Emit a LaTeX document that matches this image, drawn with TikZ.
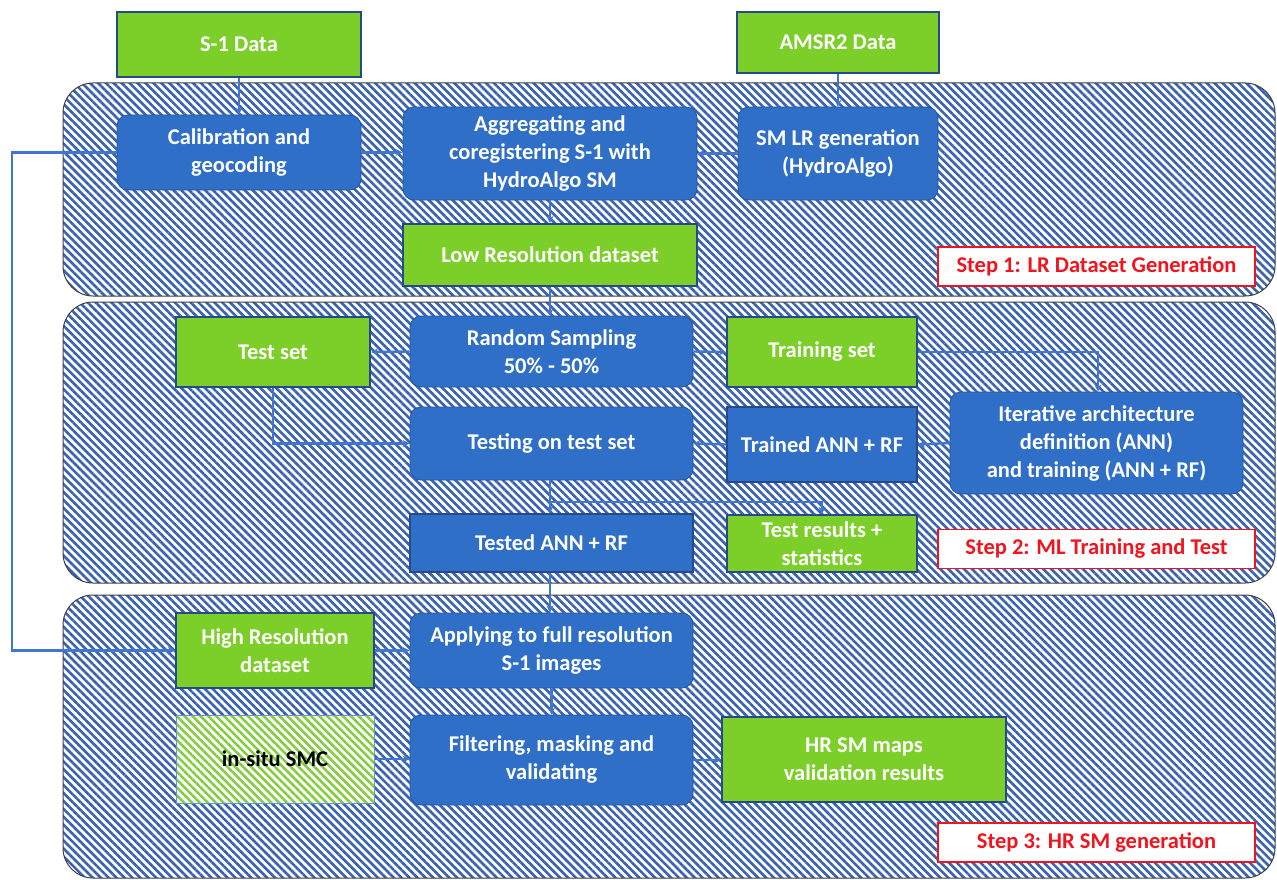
\documentclass[tikz,border=0pt]{standalone}
\usepackage{fontspec}
\setmainfont{Carlito}
\usetikzlibrary{patterns.meta,arrows.meta}
\definecolor{boxblue}{RGB}{48,111,200}
\definecolor{boxedge}{RGB}{40,85,160}
\definecolor{boxgreen}{RGB}{124,207,40}
\definecolor{greenedge}{RGB}{38,72,140}
\definecolor{hatchblue}{RGB}{58,98,178}
\definecolor{linkblue}{RGB}{64,118,210}
\definecolor{hatchgreen}{RGB}{130,205,60}
\definecolor{stepred}{RGB}{240,20,30}
\tikzset{
  panel/.style={rounded corners=30pt, draw=black!75, line width=1pt,
    pattern={Lines[angle=-45,distance=5.6pt,line width=2.6pt]}, pattern color=hatchblue},
  boxtext/.style={text=white, font=\fontsize{22.5}{28}\selectfont\bfseries, align=center, inner sep=0pt},
  bluebox/.style={boxtext, rounded corners=11pt, fill=boxblue, draw=boxedge, line width=0.8pt},
  greenbox/.style={boxtext, fill=boxgreen, draw=greenedge, line width=2.2pt},
  bluerect/.style={boxtext, fill=boxblue, draw=greenedge, line width=2pt},
  insitubox/.style={boxtext, draw=linkblue!80, line width=0.8pt,
    pattern={Lines[angle=-45,distance=5.6pt,line width=2.5pt]}, pattern color=hatchgreen,
    text=black},
  steplabel/.style={fill=white, draw=stepred, line width=1.2pt, text=stepred,
    font=\fontsize{22.5}{26}\selectfont\bfseries, inner sep=0pt,
    minimum width=317pt, minimum height=39pt},
  link/.style={draw=linkblue, line width=2.4pt},
  arr/.style={link, -{Stealth[length=7pt,width=7pt]}},
  sz/.style n args={2}{minimum width=#1pt, minimum height=#2pt}
}
\begin{document}
\begin{tikzpicture}[x=1pt,y=-1pt]
\fill[white] (0,0) rectangle (1277,880);
\useasboundingbox (0,0) rectangle (1277,880);

% panels
\draw[panel] (63,83) rectangle (1275,296);
\draw[panel] (63,302) rectangle (1275,583);
\draw[panel] (63,595) rectangle (1275,878);

% step 1
\node[greenbox, sz={244}{65}] (s1) at (239,44.5) {S-1 Data};
\node[greenbox, sz={202}{61}] (amsr) at (838,42.5) {AMSR2 Data};
\node[bluebox, sz={244}{75}] (cal) at (239,152.5) {Calibration and\\geocoding};
\node[bluebox, sz={294}{93}] (agg) at (550,153.5) {Aggregating and\\coregistering S-1 with\\HydroAlgo SM};
\node[bluebox, sz={200}{93}] (smlr) at (838,153.5) {SM LR generation\\(HydroAlgo)};
\node[greenbox, sz={294}{62}] (lr) at (550,255) {Low Resolution dataset};
\node[steplabel] (st1) at (1096.5,266.5) {Step 1: LR Dataset Generation};

% step 2
\node[greenbox, sz={194}{70}] (test) at (273,352) {Test set};
\node[bluebox, sz={283}{71}] (rs) at (551.5,351.5) {Random Sampling\\50\% - 50\%};
\node[greenbox, sz={190}{70}] (train) at (822,352) {Training set};
\node[bluebox, sz={283}{73}] (tot) at (551.5,443.5) {Testing on test set};
\node[bluerect, sz={190}{75}] (trained) at (822,444.5) {Trained ANN + RF};
\node[bluebox, sz={293}{102}] (iter) at (1096.5,443) {Iterative architecture\\definition (ANN)\\and training (ANN + RF)};
\node[bluerect, sz={283}{58}] (tested) at (551.5,543) {Tested ANN + RF};
\node[greenbox, sz={190}{57}] (tres) at (822,543.5) {Test results +\\statistics};
\node[steplabel] (st2) at (1096.5,549) {Step 2: ML Training and Test};

% step 3
\node[greenbox, sz={198}{75}] (hr) at (275,650.5) {High Resolution\\dataset};
\node[bluebox, sz={283}{75}] (app) at (551.5,650.5) {Applying to full resolution\\S-1 images};
\fill[white] (176,715) rectangle (374,803);
\node[insitubox, sz={198}{88}] (situ) at (275,759) {in-situ SMC};
\node[bluebox, sz={283}{90}] (filt) at (551.5,760) {Filtering, masking and\\validating};
\node[greenbox, sz={284}{85}] (hrsm) at (864,759.5) {HR SM maps\\validation results};
\node[steplabel] (st3) at (1096.5,842.5) {Step 3: HR SM generation};

% connectors
\draw[arr] (s1.south) -- (cal.north);
\draw[arr] (amsr.south) -- (smlr.north);
\draw[arr] (cal.east) -- (agg.west |- cal.east);
\draw[arr] (smlr.west) -- (agg.east);
\draw[arr] (agg.south -| lr.north) -- (lr.north);
\draw[arr] (lr.south) -- (lr.south |- rs.north);
\draw[arr] (rs.west) -- (test.east);
\draw[arr] (rs.east) -- (train.west);
\coordinate (tcorner) at (1098,352);
\draw[arr] (train.east) -- (tcorner) -- (tcorner |- iter.north);
\draw[arr] (iter.west) -- (trained.west -| trained.east);
\draw[arr] (trained.west) -- (tot.east);
\coordinate (tscorner) at (273,443.5);
\draw[arr] (test.south) -- (tscorner) -- (tot.west);
\draw[arr] (lr.south |- tot.south) -- (lr.south |- tested.north);
\coordinate (bra) at (550,502);
\coordinate (brb) at (822,502);
\draw[arr] (bra) -- (brb) -- (tres.north);
\draw[arr] (lr.south |- tested.south) -- (lr.south |- app.north);
\coordinate (fb1) at (12,152.5);
\coordinate (fb2) at (12,650.5);
\draw[arr] (cal.west) -- (fb1) -- (fb2) -- (hr.west);
\draw[arr] (hr.east) -- (app.west);
\draw[arr] (app.south) -- (filt.north);
\draw[arr] (situ.east) -- (filt.west |- situ.east);
\draw[arr] (filt.east) -- (hrsm.west |- filt.east);
\end{tikzpicture}
\end{document}
